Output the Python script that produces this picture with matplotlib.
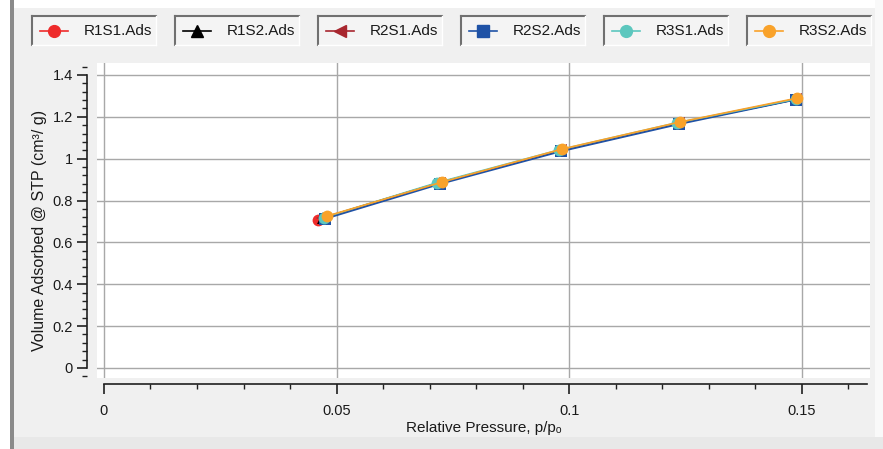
import matplotlib
matplotlib.use("Agg")
import matplotlib.pyplot as plt
from matplotlib.lines import Line2D
from matplotlib.patches import Rectangle
from matplotlib.ticker import MultipleLocator

plt.rcParams['font.family'] = ['Liberation Sans', 'DejaVu Sans']

# series data
names = ["R1S1.Ads", "R1S2.Ads", "R2S1.Ads", "R2S2.Ads", "R3S1.Ads", "R3S2.Ads"]
x_r1s1 = [0.0460, 0.0722, 0.0982, 0.1236, 0.1487]
y_r1s1 = [0.707, 0.884, 1.040, 1.170, 1.284]
x_r1s2 = [0.0470, 0.0722, 0.0982, 0.1237, 0.1488]
y_r1s2 = [0.716, 0.886, 1.038, 1.170, 1.283]
x_r2s1 = [0.0468, 0.0722, 0.0983, 0.1237, 0.1488]
y_r2s1 = [0.715, 0.885, 1.040, 1.171, 1.285]
x_r2s2 = [0.0475, 0.0723, 0.0983, 0.1237, 0.1488]
y_r2s2 = [0.712, 0.879, 1.035, 1.165, 1.282]
x_r3s1 = [0.0472, 0.0716, 0.0979, 0.1233, 0.1487]
y_r3s1 = [0.718, 0.885, 1.042, 1.172, 1.284]
x_r3s2 = [0.0480, 0.0727, 0.0985, 0.1238, 0.1490]
y_r3s2 = [0.726, 0.888, 1.046, 1.175, 1.289]

xs = [x_r1s1, x_r1s2, x_r2s1, x_r2s2, x_r3s1, x_r3s2]
ys = [y_r1s1, y_r1s2, y_r2s1, y_r2s2, y_r3s1, y_r3s2]
colors = ["#ee2b2b", "#000000", "#a8262e", "#1f52a6", "#5cc7be", "#f9a22a"]
markers = ["o", "^", "<", "s", "o", "o"]

W, H = 883, 449
fig = plt.figure(figsize=(W / 100, H / 100), dpi=100)
fig.patch.set_facecolor("#f0f0f0")

def box(x0, y0, x1, y1, **kw):
    # rectangle in pixel coords (top-left origin)
    fig.patches.append(Rectangle((x0 / W, 1 - y1 / H), (x1 - x0) / W, (y1 - y0) / H,
                                 transform=fig.transFigure, **kw))

def seg(x0, y0, x1, y1, **kw):
    fig.lines.append(Line2D([x0 / W, x1 / W], [1 - y0 / H, 1 - y1 / H],
                            transform=fig.transFigure, **kw))

# window frame bits
box(0, 0, W, 8, facecolor="white", edgecolor="none")
box(0, 0, 10, H, facecolor="white", edgecolor="none")
box(875, 0, W, H, facecolor="#f9f9f9", edgecolor="none")
box(14, 437, W, H, facecolor="#e8e8e8", edgecolor="none")
box(10, 0, 14, H, facecolor="#8a8a8a", edgecolor="none")

# legend boxes
for i in range(6):
    bx = 32 + i * 143
    box(bx, 16, bx + 124, 45, facecolor="#f4f4f4", edgecolor="none")
    seg(bx, 16, bx + 124, 16, color="#707070", lw=1.5)
    seg(bx, 16, bx, 45, color="#707070", lw=1.5)
    seg(bx, 45, bx + 124, 45, color="white", lw=1)
    seg(bx + 124, 16, bx + 124, 45, color="white", lw=1)
    seg(bx + 8, 31, bx + 36, 31, color=colors[i], lw=1.2)
    fig.lines.append(Line2D([(bx + 22) / W], [1 - 31 / H], transform=fig.transFigure,
                            marker=markers[i], color=colors[i], markersize=8.5, lw=0))
    fig.text((bx + 52) / W, 1 - 31 / H, names[i], ha="left", va="center",
             fontsize=11, color="#1a1a1a")

ax = fig.add_axes([97 / W, 1 - 378 / H, (870 - 97) / W, (378 - 63) / H])
ax.set_facecolor("white")

for x, y, c, m in zip(xs, ys, colors, markers):
    ax.plot(x, y, color=c, marker=m, markersize=8.5, lw=1.2, markeredgewidth=0)

ax.set_xlim(-0.0015, 0.1647)
ax.set_ylim(-0.048, 1.457)
ax.xaxis.set_minor_locator(MultipleLocator(0.01))
ax.yaxis.set_minor_locator(MultipleLocator(0.04))
ax.set_xticks([0, 0.05, 0.1, 0.15])
ax.set_xticklabels(["0", "0.05", "0.1", "0.15"])
ax.set_yticks([0, 0.2, 0.4, 0.6, 0.8, 1.0, 1.2, 1.4])
ax.set_yticklabels(["0", "0.2", "0.4", "0.6", "0.8", "1", "1.2", "1.4"])
ax.grid(True, which="major", color="#a8a8a8", lw=1)
ax.set_axisbelow(True)

for s in ["top", "right"]:
    ax.spines[s].set_visible(False)
ax.spines["left"].set_position(("outward", 7))
ax.spines["left"].set_bounds(0, 1.4)
ax.spines["bottom"].set_position(("outward", 4))
ax.spines["bottom"].set_bounds(0, 0.164)
for s in ["left", "bottom"]:
    ax.spines[s].set_color("#202020")
    ax.spines[s].set_linewidth(1.2)

ax.tick_params(which="major", length=7, width=1.2, color="#202020",
               labelsize=10.5, labelcolor="#1a1a1a")
ax.tick_params(which="minor", length=3.5, width=1.0, color="#202020")
ax.tick_params(axis="x", which="major", pad=8)

ax.set_xlabel("Relative Pressure, p/p\u2092", fontsize=11, color="#1a1a1a", va="center")
ax.xaxis.set_label_coords(0.5, (378 - 428) / 315)
ax.set_ylabel("Volume Adsorbed @ STP (cm\u00b3/ g)", fontsize=11.5, color="#1a1a1a", va="center")
ax.yaxis.set_label_coords((40 - 97) / 773, 1 - (230 - 63) / 315)

fig.savefig("out.png", dpi=100, facecolor=fig.get_facecolor())
